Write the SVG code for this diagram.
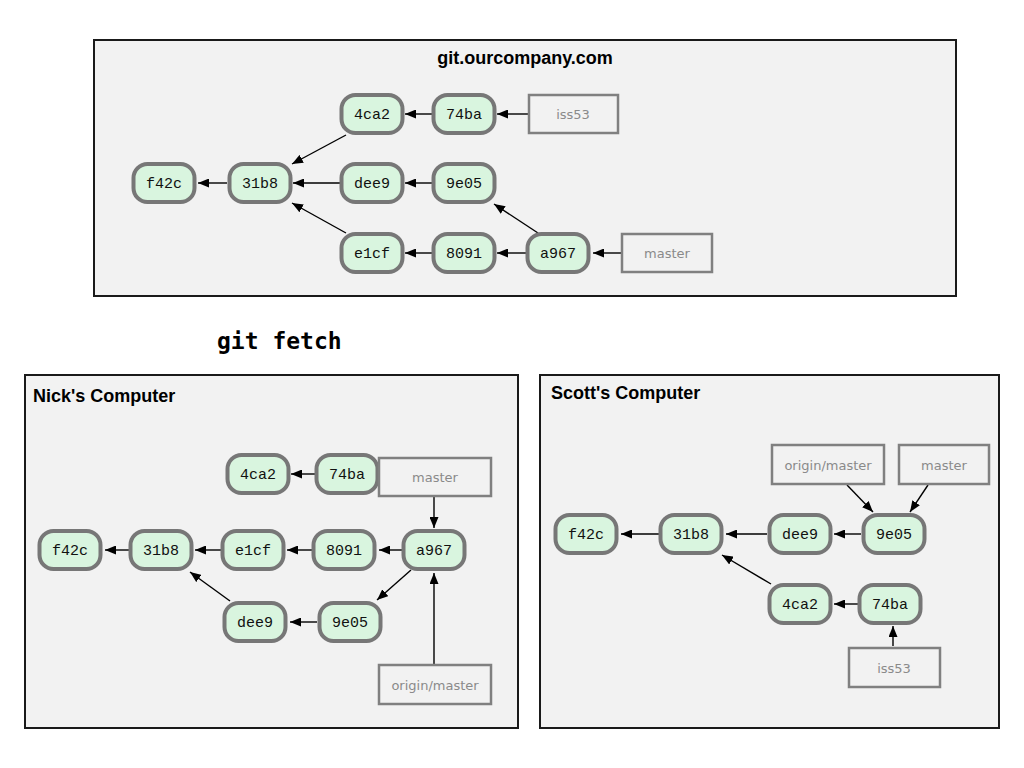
<svg xmlns="http://www.w3.org/2000/svg" width="1024" height="768" viewBox="0 0 1024 768">
<defs>
<style>
.panel{fill:#f2f2f2;stroke:#1a1a1a;stroke-width:2}
.title{font-family:"Liberation Sans",Arial,sans-serif;font-weight:bold;font-size:18px;fill:#000}
.commit rect{fill:#d9f5df;stroke:#777;stroke-width:4}
.commit text{font-family:"Liberation Mono","Courier New",monospace;font-size:15px;fill:#111;text-anchor:middle}
.ref rect{fill:#f2f2f2;stroke:#808080;stroke-width:2.5}
.ref text{font-family:"DejaVu Sans",sans-serif;font-size:13px;fill:#8a8a8a;text-anchor:middle}
.edges line{stroke:#000;stroke-width:1.4;marker-end:url(#arrow)}
.cmd{font-family:"DejaVu Sans Mono",monospace;font-weight:bold;font-size:23px;fill:#000}
</style>
<marker id="arrow" markerUnits="userSpaceOnUse" markerWidth="11" markerHeight="9" refX="11" refY="4.5" orient="auto">
<path d="M0,0 L11,4.5 L0,9 z" fill="#000"/>
</marker>
</defs>
<rect width="1024" height="768" fill="#fff"/>

<g id="server">
<rect class="panel" x="94" y="40" width="862" height="256"/>
<text class="title" x="525" y="64" text-anchor="middle">git.ourcompany.com</text>
</g>
<text id="cmd" class="cmd" x="217" y="349">git fetch</text>
<g id="nick">
<rect class="panel" x="25" y="375" width="493" height="353"/>
<text class="title" x="33" y="402">Nick's Computer</text>
</g>
<g id="scott">
<rect class="panel" x="540" y="375" width="459" height="353"/>
<text class="title" x="551" y="399">Scott's Computer</text>
</g>

<g class="edges" id="connectors">
<!-- server -->
<line x1="432" y1="114" x2="405" y2="114"/>
<line x1="528" y1="114" x2="497" y2="114"/>
<line x1="227" y1="183" x2="198" y2="183"/>
<line x1="340" y1="183" x2="293" y2="183"/>
<line x1="432" y1="183" x2="405" y2="183"/>
<line x1="346" y1="135" x2="292" y2="164"/>
<line x1="346" y1="233" x2="292" y2="203"/>
<line x1="432" y1="253" x2="405" y2="253"/>
<line x1="526" y1="253" x2="497" y2="253"/>
<line x1="538" y1="233" x2="494" y2="204"/>
<line x1="621" y1="253" x2="593" y2="253"/>
<!-- nick -->
<line x1="315" y1="474" x2="291" y2="474"/>
<line x1="129" y1="550" x2="105" y2="550"/>
<line x1="221" y1="550" x2="195" y2="550"/>
<line x1="312" y1="550" x2="287" y2="550"/>
<line x1="402" y1="550" x2="379" y2="550"/>
<line x1="434" y1="497" x2="434" y2="528"/>
<line x1="434" y1="664" x2="434" y2="573"/>
<line x1="411" y1="570" x2="377" y2="600"/>
<line x1="317" y1="622" x2="290" y2="622"/>
<line x1="230" y1="601" x2="190" y2="572"/>
<!-- scott -->
<line x1="659" y1="534" x2="621" y2="534"/>
<line x1="767" y1="534" x2="726" y2="534"/>
<line x1="861" y1="534" x2="834" y2="534"/>
<line x1="858" y1="604" x2="834" y2="604"/>
<line x1="771" y1="584" x2="722" y2="555"/>
<line x1="847" y1="485" x2="873" y2="512"/>
<line x1="928" y1="485" x2="910" y2="512"/>
<line x1="893" y1="646" x2="893" y2="626"/>
</g>

<!-- server commits -->
<g id="s-f42c" class="commit"><rect x="133.5" y="164" width="61" height="38" rx="14"/><text x="164" y="188">f42c</text></g>
<g id="s-31b8" class="commit"><rect x="229.5" y="164" width="61" height="38" rx="14"/><text x="260" y="188">31b8</text></g>
<g id="s-4ca2" class="commit"><rect x="341.5" y="95" width="61" height="38" rx="14"/><text x="372" y="119">4ca2</text></g>
<g id="s-74ba" class="commit"><rect x="433.5" y="95" width="61" height="38" rx="14"/><text x="464" y="119">74ba</text></g>
<g id="s-dee9" class="commit"><rect x="341.5" y="164" width="61" height="38" rx="14"/><text x="372" y="188">dee9</text></g>
<g id="s-9e05" class="commit"><rect x="433.5" y="164" width="61" height="38" rx="14"/><text x="464" y="188">9e05</text></g>
<g id="s-e1cf" class="commit"><rect x="341.5" y="234" width="61" height="38" rx="14"/><text x="372" y="258">e1cf</text></g>
<g id="s-8091" class="commit"><rect x="433.5" y="234" width="61" height="38" rx="14"/><text x="464" y="258">8091</text></g>
<g id="s-a967" class="commit"><rect x="527.5" y="234" width="61" height="38" rx="14"/><text x="558" y="258">a967</text></g>
<g id="s-iss53" class="ref"><rect x="529" y="95" width="89" height="38"/><text x="573" y="119">iss53</text></g>
<g id="s-master" class="ref"><rect x="622" y="234" width="90" height="38"/><text x="667" y="258">master</text></g>

<!-- nick commits -->
<g id="n-4ca2" class="commit"><rect x="227.5" y="455" width="61" height="38" rx="14"/><text x="258" y="479">4ca2</text></g>
<g id="n-74ba" class="commit"><rect x="316.5" y="455" width="61" height="38" rx="14"/><text x="347" y="479">74ba</text></g>
<g id="n-f42c" class="commit"><rect x="39.5" y="531" width="61" height="38" rx="14"/><text x="70" y="555">f42c</text></g>
<g id="n-31b8" class="commit"><rect x="130.5" y="531" width="61" height="38" rx="14"/><text x="161" y="555">31b8</text></g>
<g id="n-e1cf" class="commit"><rect x="222.5" y="531" width="61" height="38" rx="14"/><text x="253" y="555">e1cf</text></g>
<g id="n-8091" class="commit"><rect x="313.5" y="531" width="61" height="38" rx="14"/><text x="344" y="555">8091</text></g>
<g id="n-a967" class="commit"><rect x="403.5" y="531" width="61" height="38" rx="14"/><text x="434" y="555">a967</text></g>
<g id="n-dee9" class="commit"><rect x="224.5" y="603" width="61" height="38" rx="14"/><text x="255" y="627">dee9</text></g>
<g id="n-9e05" class="commit"><rect x="319.5" y="603" width="61" height="38" rx="14"/><text x="350" y="627">9e05</text></g>
<g id="n-master" class="ref"><rect x="379" y="458" width="112" height="38"/><text x="435" y="482">master</text></g>
<g id="n-origin-master" class="ref"><rect x="379" y="665" width="112" height="39"/><text x="435" y="690">origin/master</text></g>

<!-- scott commits -->
<g id="c-f42c" class="commit"><rect x="555.5" y="515" width="61" height="38" rx="14"/><text x="586" y="539">f42c</text></g>
<g id="c-31b8" class="commit"><rect x="660.5" y="515" width="61" height="38" rx="14"/><text x="691" y="539">31b8</text></g>
<g id="c-dee9" class="commit"><rect x="769.5" y="515" width="61" height="38" rx="14"/><text x="800" y="539">dee9</text></g>
<g id="c-9e05" class="commit"><rect x="863.5" y="515" width="61" height="38" rx="14"/><text x="894" y="539">9e05</text></g>
<g id="c-4ca2" class="commit"><rect x="769.5" y="585" width="61" height="38" rx="14"/><text x="800" y="609">4ca2</text></g>
<g id="c-74ba" class="commit"><rect x="859.5" y="585" width="61" height="38" rx="14"/><text x="890" y="609">74ba</text></g>
<g id="c-origin-master" class="ref"><rect x="772" y="445" width="112" height="39"/><text x="828" y="470">origin/master</text></g>
<g id="c-master" class="ref"><rect x="899" y="445" width="90" height="39"/><text x="944" y="470">master</text></g>
<g id="c-iss53" class="ref"><rect x="849" y="648" width="91" height="39"/><text x="894" y="673">iss53</text></g>
</svg>
